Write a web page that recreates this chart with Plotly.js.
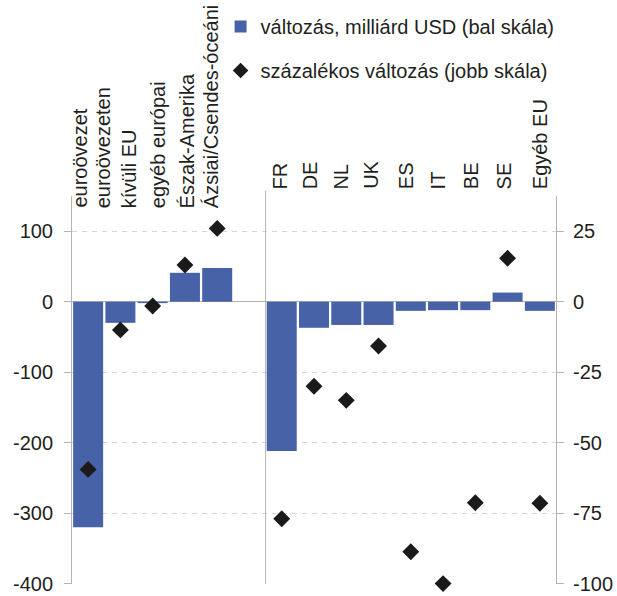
<!DOCTYPE html>
<html>
<head>
<meta charset="utf-8">
<script src="https://cdn.plot.ly/plotly-3.0.1.min.js"></script>
<style>
html,body{margin:0;padding:0;background:#fff;}
#chart{width:617px;height:596px;}
</style>
</head>
<body>
<div id="chart"></div>
<script>
// ---- data ----
const categories = ["euroövezet", "euroövezeten<br>kívüli EU", "egyéb európai", "Észak-Amerika", "Ázsiai/Csendes-óceáni", "", "FR", "DE", "NL", "UK", "ES", "IT", "BE", "SE", "Egyéb EU"];
const changeUSD = [-320, -30, -2, 41, 48, null, -212, -37, -33, -33, -13, -12, -12, 13, -13];
const changePct = [-59.5, -10, -1.5, 13, 26, null, -77, -30, -35, -15.7, -88.7, -100, -71.3, 15.4, -71.5];
const leftTicks = [100, 0, -100, -200, -300, -400];
const leftTickText = ["100", "0", "-100", "-200", "-300", "-400"];
const rightTicks = [25, 0, -25, -50, -75, -100];
const rightTickText = ["25", "0", "-25", "-50", "-75", "-100"];
const seriesNames = ["változás, milliárd USD (bal skála)", "százalékos változás (jobb skála)"];

// ---- rendering ----
const FONT = "Liberation Sans, Arial, sans-serif";
const TXT = "#231f20";
const AX = "#b4b4b4";
const xIdx = categories.map((c, i) => i);
const leftGroupCount = 5;
const separatorAt = 5.5;

const traces = [
  {
    type: "bar", x: xIdx, y: changeUSD, name: seriesNames[0],
    marker: {color: "#4862a8"}, yaxis: "y", legendgroup: "a",
    hoverinfo: "skip"
  },
  {
    type: "scatter", mode: "markers", x: xIdx, y: changePct, name: seriesNames[1],
    marker: {symbol: "diamond", size: 13, color: "#1a1a1a"}, yaxis: "y2",
    legendgroup: "b", cliponaxis: false, hoverinfo: "skip"
  }
];

const labelShift = [-8, -3.5, 6, 3, -5.5, 0, -2, -4, -5, -7, -4.5, -5, -4, -4, 0];
const annotations = [];
categories.forEach((c, i) => {
  if (!c) return;
  const left = i < leftGroupCount;
  annotations.push({
    xref: "x", yref: "paper", x: i, y: left ? 0.964 : 1.012,
    xanchor: "center", yanchor: "bottom", textangle: -90, align: "left",
    text: c, showarrow: false, xshift: labelShift[i],
    font: {family: FONT, size: 20, color: TXT}
  });
});

const layout = {
  width: 617, height: 596,
  margin: {l: 72, r: 61, t: 196, b: 12, pad: 0, autoexpand: false},
  paper_bgcolor: "#fff", plot_bgcolor: "#fff",
  font: {family: FONT, size: 20, color: TXT},
  bargap: 0.07,
  showlegend: true,
  legend: {
    xref: "paper", yref: "paper", x: 0.307, y: 1.487,
    xanchor: "left", yanchor: "top", traceorder: "grouped", tracegroupgap: 15,
    itemsizing: "constant", font: {family: FONT, size: 20, color: TXT},
    bgcolor: "rgba(0,0,0,0)", borderwidth: 0
  },
  xaxis: {
    range: [-0.5, 14.5], showticklabels: false, ticks: "", showgrid: false,
    zeroline: false, showline: false, fixedrange: true
  },
  yaxis: {
    range: [-400.6, 150], tickvals: leftTicks, ticktext: leftTickText,
    ticks: "outside", ticklen: 7, tickcolor: AX, tickwidth: 1,
    ticklabelstandoff: 7, ticklabeloverflow: "allow",
    showline: true, linecolor: AX, linewidth: 1,
    showgrid: true, gridcolor: "#d6d6d6", griddash: "5px,5px", gridwidth: 1,
    zeroline: true, zerolinecolor: AX, zerolinewidth: 1,
    tickfont: {family: FONT, size: 20, color: TXT}, fixedrange: true
  },
  yaxis2: {
    range: [-100.15, 37.5], overlaying: "y", side: "right",
    tickvals: rightTicks, ticktext: rightTickText,
    ticks: "outside", ticklen: 7, tickcolor: AX, tickwidth: 1,
    ticklabelstandoff: 5, ticklabeloverflow: "allow",
    showline: true, linecolor: AX, linewidth: 1,
    showgrid: false, zeroline: false,
    tickfont: {family: FONT, size: 20, color: TXT}, fixedrange: true
  },
  shapes: [
    {type: "line", xref: "x", yref: "paper", x0: separatorAt, x1: separatorAt, y0: 0, y1: 1.013,
     line: {color: AX, width: 1}}
  ],
  annotations: annotations
};

Plotly.newPlot("chart", traces, layout, {staticPlot: true, displayModeBar: false});
</script>
</body>
</html>
